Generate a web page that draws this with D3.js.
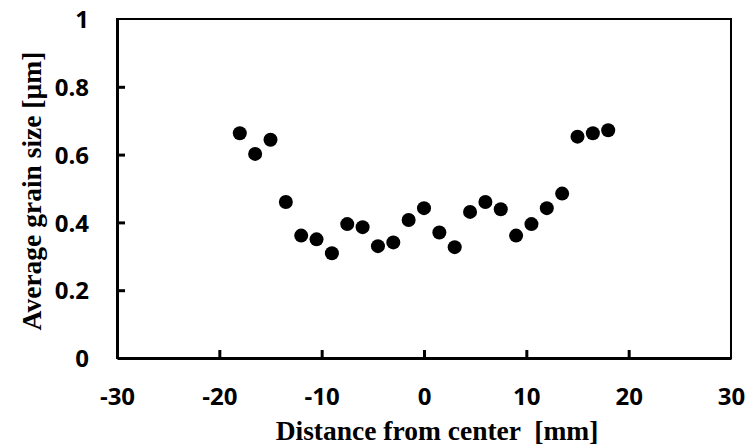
<!DOCTYPE html>
<html>
<head>
<meta charset="utf-8">
<script src="https://cdn.jsdelivr.net/npm/d3@7"></script>
<style>
  body { margin: 0; background: #fff; }
  .tick text { font-family: "Open Sans", sans-serif; font-weight: bold; font-size: 24px; fill: #000; }
  .title { font-family: "Liberation Serif", "Times New Roman", serif; font-weight: bold; font-size: 27.5px; fill: #000; }
</style>
</head>
<body>
<div id="chart"></div>
<script>
var width = 746;
var height = 448;

// distance from center [mm]
var distance = [-18, -16.5, -15, -13.5, -12, -10.5, -9, -7.5, -6, -4.5, -3, -1.5, 0,
                1.5, 3, 4.5, 6, 7.5, 9, 10.5, 12, 13.5, 15, 16.5, 18];
// average grain size [um]
var grainSize = [0.663, 0.602, 0.644, 0.460, 0.361, 0.350, 0.309, 0.395, 0.386, 0.330, 0.341, 0.407, 0.442,
                 0.370, 0.327, 0.431, 0.460, 0.439, 0.361, 0.395, 0.442, 0.485, 0.653, 0.663, 0.672];
var xTicks = [-30, -20, -10, 0, 10, 20, 30];
var yTicks = [0, 0.2, 0.4, 0.6, 0.8, 1];

var margin = {left: 117, top: 19, right: 15, bottom: 90};
var w = width - margin.left - margin.right;
var h = height - margin.top - margin.bottom;

var svg = d3.select("#chart").append("svg").attr("width", width).attr("height", height);
var g = svg.append("g").attr("transform", "translate(" + margin.left + "," + margin.top + ")");

var x = d3.scaleLinear().domain([-30, 30]).range([0, w]);
var y = d3.scaleLinear().domain([0, 1]).range([h, 0]);

// frame (top and right thinner)
g.append("rect").attr("x", 0).attr("y", 0).attr("width", w).attr("height", h)
  .attr("fill", "none").attr("stroke", "#000").attr("stroke-width", 2);

var xAxis = g.append("g").attr("transform", "translate(0," + h + ")")
  .call(d3.axisBottom(x).tickValues(xTicks).tickSizeInner(-8).tickSizeOuter(0).tickPadding(30)
    .tickFormat(function(d) { return String(d); }));
var yAxis = g.append("g")
  .call(d3.axisLeft(y).tickValues(yTicks).tickSizeInner(-8).tickSizeOuter(0).tickPadding(28)
    .tickFormat(function(d) { return String(d); }));

[xAxis, yAxis].forEach(function(a) {
  a.select(".domain").attr("stroke", "#000").attr("stroke-width", 3);
  a.selectAll(".tick line").attr("stroke", "#000").attr("stroke-width", 3);
});
xAxis.selectAll(".tick line").filter(function(d) { return d === -30 || d === 30; }).remove();
yAxis.selectAll(".tick line").filter(function(d) { return d === 0 || d === 1; }).remove();
yAxis.selectAll(".tick text").attr("dy", "0.36em");

g.selectAll(".dot")
  .data(distance)
  .enter().append("circle")
    .attr("class", "dot")
    .attr("cx", function(d) { return x(d); })
    .attr("cy", function(d, i) { return y(grainSize[i]); })
    .attr("r", 7)
    .attr("fill", "#000");

svg.append("text").attr("class", "title")
  .attr("x", 437).attr("y", 440)
  .attr("text-anchor", "middle")
  .attr("xml:space", "preserve")
  .text("Distance from center  [mm]");

svg.append("text").attr("class", "title")
  .attr("transform", "translate(41," + 191 + ") rotate(-90)")
  .attr("text-anchor", "middle")
  .text("Average grain size [µm]");
</script>
</body>
</html>
